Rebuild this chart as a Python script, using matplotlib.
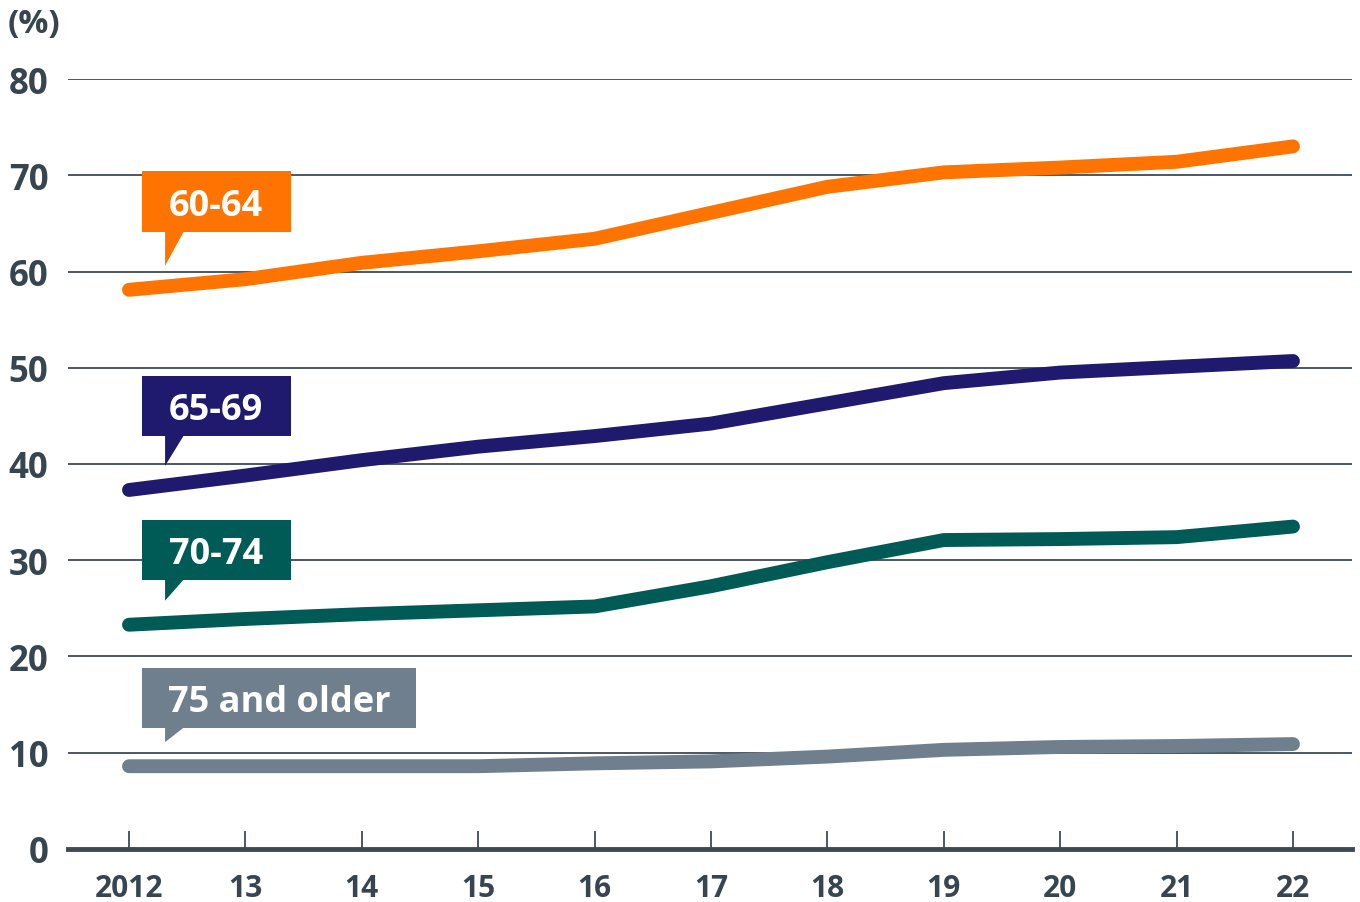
import numpy as np
import matplotlib.pyplot as plt
from matplotlib.patches import Polygon, Rectangle

plt.rcParams['font.family'] = ['Open Sans', 'DejaVu Sans']

years = [2012, 2013, 2014, 2015, 2016, 2017, 2018, 2019, 2020, 2021, 2022]
year_labels = ['2012', '13', '14', '15', '16', '17', '18', '19', '20', '21', '22']

rate_60_64 = [58.1, 59.2, 60.9, 62.1, 63.4, 66.1, 68.8, 70.3, 70.8, 71.4, 73.0]
rate_65_69 = [37.3, 38.8, 40.4, 41.8, 42.9, 44.2, 46.3, 48.4, 49.5, 50.1, 50.7]
rate_70_74 = [23.3, 23.9, 24.4, 24.8, 25.2, 27.3, 29.8, 32.1, 32.2, 32.4, 33.5]
rate_75_up = [8.6, 8.6, 8.6, 8.6, 8.9, 9.1, 9.6, 10.3, 10.6, 10.7, 10.9]

series = [
    ('60-64', rate_60_64, '#ff7300'),
    ('65-69', rate_65_69, '#1f1a6e'),
    ('70-74', rate_70_74, '#005a55'),
    ('75 and older', rate_75_up, '#6f7f8e'),
]
# callout box: (top, bottom, right edge) in data units
boxes = [(70.4, 64.1, 2013.39), (49.1, 42.9, 2013.39),
         (34.2, 27.95, 2013.39), (18.8, 12.57, 2014.47)]

txt = '#36454f'
grid_c = '#3d4a56'

fig = plt.figure(figsize=(13.6, 9.03), dpi=100)
ax = fig.add_axes([0.05, 0.0587, 0.9441, 0.8527])
ax.set_xlim(2011.476, 2022.507)
ax.set_ylim(0, 80)

for y in range(10, 90, 10):
    ax.axhline(y, color=grid_c, lw=1.3, zorder=1)

for name, vals, col in series:
    ax.plot(years, vals, color=col, lw=10, solid_capstyle='round',
            solid_joinstyle='round', zorder=3, clip_on=False)

box_left = 2012.11
for (name, vals, col), (top, bot, right) in zip(series, boxes):
    ax.add_patch(Rectangle((box_left, bot), right - box_left, top - bot,
                           facecolor=col, edgecolor='none', zorder=4))
    tip = vals[0] + 2.5
    ax.add_patch(Polygon([(2012.31, bot + 0.05), (2012.47, bot + 0.05), (2012.31, tip)],
                         closed=True, facecolor=col, edgecolor='none', zorder=4))
    ax.text((box_left + right) / 2, (top + bot) / 2 - 0.4, name, color='white',
            fontsize=26, fontweight='bold', ha='center', va='center', zorder=5)

for s in ['top', 'right', 'left']:
    ax.spines[s].set_visible(False)
ax.spines['bottom'].set_color(grid_c)
ax.spines['bottom'].set_linewidth(3.5)
ax.spines['bottom'].set_zorder(6)

ax.set_xticks(years)
ax.set_xticklabels(year_labels)
ax.set_yticks(range(0, 90, 10))
ax.tick_params(axis='x', direction='in', length=13, width=1.3, color=grid_c,
               pad=17, labelsize=21.5, labelcolor=txt)
ax.tick_params(axis='y', length=0, pad=14, labelsize=25, labelcolor=txt)
for lab in ax.get_xticklabels() + ax.get_yticklabels():
    lab.set_fontweight('bold')

fig.text(8 / 1360, 1 - 25 / 903, '(%)', fontsize=24, fontweight='bold',
         color=txt, ha='left', va='center')

fig.savefig('out.png', dpi=100)
